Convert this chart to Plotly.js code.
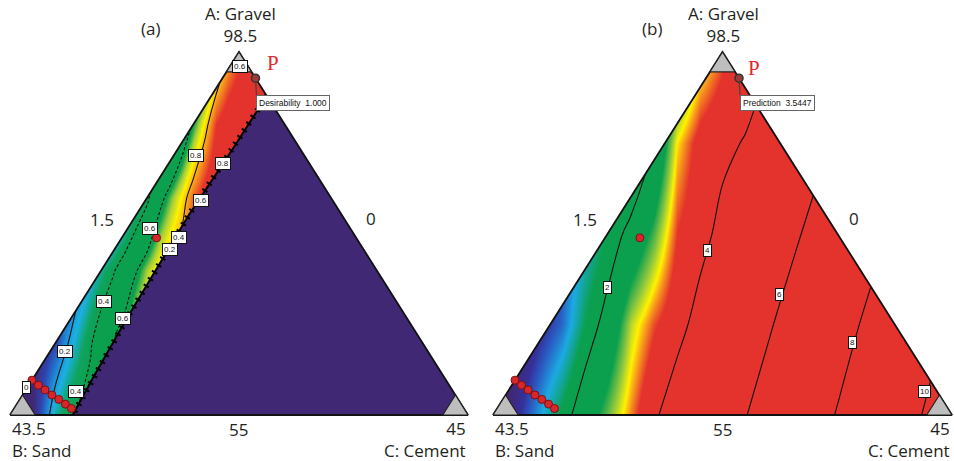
<!DOCTYPE html>
<html>
<head>
<meta charset="utf-8">
<script src="https://cdn.plot.ly/plotly-3.0.1.min.js"></script>
<style>
  html, body { margin: 0; padding: 0; background: #ffffff; }
  #chart { width: 954px; height: 461px; }
</style>
</head>
<body>
<div id="chart"></div>
<script>
// Mixture design of gravel (A), sand (B) and cement (C).
// Grid points are placed in the simplex by u = C + A/2 (along the base) and v = A (height).

// ---- (a) desirability surface ----
const desirU = [0, 0.025, 0.05, 0.075, 0.1, 0.125, 0.15, 0.175, 0.2, 0.225, 0.25, 0.275, 0.3,
                0.325, 0.35, 0.375, 0.4, 0.425, 0.45, 0.475, 0.5, 0.525, 0.55, 0.575, 0.6];
const desirV = [0, 0.2, 0.4, 0.6, 0.8, 1];
const desirZ = [
  [-0.2, -0.1, 0.0, 0.13, 0.29, 0.37, 0.42, 0.46, 0.5, 0.54, 0.58, 0.62, 0.66, 0.7, 0.74, 0.78, 0.82, 0.86, 0.9, 0.94, 0.98, 1.0, 1.0, 1.0, 1.0],
  [-0.1, -0.05, 0.0, 0.03, 0.08, 0.19, 0.29, 0.38, 0.49, 0.59, 0.68, 0.75, 0.8, 0.85, 0.9, 0.94, 0.97, 1.0, 1.0, 1.0, 1.0, 1.0, 1.0, 1.0, 1.0],
  [-0.34, -0.26, -0.18, -0.1, -0.02, 0.06, 0.14, 0.22, 0.3, 0.38, 0.48, 0.59, 0.68, 0.76, 0.82, 0.87, 0.91, 0.95, 1.0, 1.0, 1.0, 1.0, 1.0, 1.0, 1.0],
  [-1.1, -1.0, -0.87, -0.75, -0.62, -0.5, -0.37, -0.25, -0.12, 0.0, 0.12, 0.25, 0.37, 0.55, 0.65, 0.75, 0.86, 0.94, 1.0, 1.0, 1.0, 1.0, 1.0, 1.0, 1.0],
  [-1.62, -1.48, -1.34, -1.2, -1.06, -0.92, -0.78, -0.64, -0.5, -0.36, -0.22, -0.08, 0.06, 0.2, 0.34, 0.48, 0.62, 0.76, 0.9, 0.97, 1.0, 1.0, 1.0, 1.0, 1.0],
  [-1.54, -1.42, -1.3, -1.18, -1.06, -0.94, -0.82, -0.7, -0.58, -0.46, -0.34, -0.22, -0.1, 0.02, 0.14, 0.26, 0.38, 0.5, 0.66, 0.78, 0.87, 0.95, 1.0, 1.0, 1.0]
];
const desirSolidLevels = [0.2, 0.8];
const desirDashedLevels = [0.4, 0.6];
const desirLabelText = ['0.6', '0.8', '0.8', '0.6', '0.6', '0.4', '0.2', '0.4', '0.6', '0.2', '0', '0.4'];

// ---- (b) predicted response surface ----
const predU = [0, 0.05, 0.1, 0.15, 0.2, 0.25, 0.3, 0.35, 0.4, 0.45, 0.5,
               0.55, 0.6, 0.65, 0.7, 0.75, 0.8, 0.85, 0.9, 0.95, 1];
const predV = [0, 0.25, 0.5, 0.75, 1];
const predZ = [
  [0.19, 0.72, 1.24, 1.77, 2.30, 2.82, 3.35, 3.88, 4.40, 4.93, 5.46, 5.96, 6.49, 7.01, 7.54, 8.06, 8.59, 9.12, 9.64, 10.17, 10.70],
  [-0.2, 0.3, 0.7, 1.05, 1.7, 2.2, 3.0, 3.45, 3.75, 4.25, 4.82, 5.34, 5.88, 6.42, 6.95, 7.49, 8.02, 8.56, 9.09, 9.63, 10.16],
  [-0.22, 0.17, 0.55, 0.93, 1.32, 1.7, 2.16, 2.75, 3.5, 3.76, 4.2, 4.71, 5.24, 5.77, 6.30, 6.83, 7.36, 7.89, 8.41, 8.94, 9.47],
  [-2.8, -2.1, -1.4, -0.7, -0.04, 0.64, 1.32, 2.0, 3.17, 3.64, 3.83, 4.05, 4.58, 5.11, 5.64, 6.17, 6.70, 7.22, 7.75, 8.28, 8.81],
  [-3.3, -2.6, -1.9, -1.2, -0.5, 0.2, 0.9, 1.6, 2.3, 3.0, 3.4, 3.55, 3.9, 4.48, 5.01, 5.54, 6.07, 6.6, 7.1, 7.65, 8.2]
];
const predLevels = [2, 4, 6, 8, 10];
const predLabelText = ['2', '4', '6', '8', '10'];

// ---- design points and optimum (fractions of A and C) ----
const designA = [0.096, 0.082, 0.069, 0.055, 0.043, 0.030, 0.018, 0.488];
const designC = [0.000, 0.021, 0.042, 0.064, 0.085, 0.106, 0.125, 0.076];
const optA = [0.928];
const optC = [0.072];
const optDesirability = 1.000;
const optPrediction = 3.5447;

// cement limit bounding the feasible region of (a)
const limitA = [0.879, 0.73, 0.55, 0.27, 0.10, 0.0];
const limitC = [0.121, 0.12, 0.115, 0.122, 0.13, 0.137];

// excluded corner size at each vertex
const cornerFrac = 0.055;

// vertex and edge labels
const vertexNames = ['A: Gravel', 'B: Sand', 'C: Cement'];
const vertexValues = ['98.5', '43.5', '45'];
const edgeValues = ['1.5', '0', '55'];   // A-B edge, A-C edge, B-C edge
const panelTags = ['(a)', '(b)'];

// ================= drawing =================
const W = 954, H = 461;
const topPx = 52, basePx = 415;
// simplex placement (pixels) and the plot box around it (whole pixels)
const panels = [
  { left: 10,  width: 458, box: [5, 473],   xa: 'x',  ya: 'y',  tagX: 150, apexX: 240 },
  { left: 493, width: 459, box: [489, 954], xa: 'x2', ya: 'y2', tagX: 652, apexX: 723 }
];
const boxY = [48, 419];
const sans = 'Open Sans, Liberation Sans, Arial, sans-serif';
const textColor = '#231F20';
const purple = '#402874';

const desirScale = [
  [0.00, '#402874'], [0.08, '#2E44B0'], [0.17, '#1C8FD8'], [0.24, '#1BB0E3'],
  [0.33, '#0FA45E'], [0.40, '#0BA04E'], [0.62, '#0BA04E'], [0.68, '#A8CF3A'],
  [0.74, '#FFF200'], [0.82, '#F7941D'], [0.90, '#E4322D'], [1.00, '#E4322D']
];
const predMin = 0.5, predMax = 3.6;
const predStops = [
  [0.5, '#402874'], [0.8, '#35309A'], [1.0, '#2A5BC2'], [1.3, '#1BAAE2'],
  [1.7, '#0BA04E'], [2.6, '#0BA04E'], [2.9, '#8DC63F'], [3.15, '#FFF200'],
  [3.3, '#F8981D'], [3.5, '#E4322D'], [3.6, '#E4322D']
];
const predScale = predStops.map(s => [(s[0] - predMin) / (predMax - predMin), s[1]]);

const toX = (A, C) => A.map((a, i) => C[i] + a / 2);
const tern = (a, c) => [c + a / 2, a];

const traces = [];
const annotations = [];

function framePieces(p) {
  // white masks outside the simplex (all wound the same way, reaching past the plot box)
  const x0 = -0.3, x1 = 1.3, y0 = -0.3, y1 = 1.3;
  const B = tern(0, 0), C = tern(0, 1), A = tern(1, 0);
  const xs = [x0, x1, x1, x0, x0, null,
              x0, B[0], A[0], A[0], x0, x0, null,
              C[0], x1, x1, A[0], A[0], C[0]];
  const ys = [y0, y0, 0, 0, y0, null,
              0, B[1], A[1], y1, y1, 0, null,
              C[1], 0, y1, y1, A[1], C[1]];
  traces.push({
    type: 'scatter', mode: 'lines', xaxis: p.xa, yaxis: p.ya, x: xs, y: ys,
    fill: 'toself', fillcolor: '#ffffff', line: { width: 0 }, hoverinfo: 'skip', showlegend: false
  });
}

function edgesAndCorners(p) {
  const s = cornerFrac;
  const B = tern(0, 0), C = tern(0, 1), A = tern(1, 0);
  traces.push({
    type: 'scatter', mode: 'lines', xaxis: p.xa, yaxis: p.ya,
    x: [B[0], C[0], A[0], B[0]], y: [B[1], C[1], A[1], B[1]],
    line: { color: '#111111', width: 1.8 }, hoverinfo: 'skip', showlegend: false
  });
  const corners = [
    [tern(1, 0), tern(1 - s, 0), tern(1 - s, s)],
    [tern(0, 0), tern(s, 0), tern(0, s)],
    [tern(0, 1), tern(0, 1 - s), tern(s, 1 - s)]
  ];
  const cx = [], cy = [];
  corners.forEach(t => { t.concat([t[0]]).forEach(q => { cx.push(q[0]); cy.push(q[1]); }); cx.push(null); cy.push(null); });
  traces.push({
    type: 'scatter', mode: 'lines', xaxis: p.xa, yaxis: p.ya, x: cx, y: cy,
    fill: 'toself', fillcolor: '#BEBEBE', line: { color: '#222222', width: 1.2 },
    hoverinfo: 'skip', showlegend: false
  });
}

function points(p) {
  traces.push({
    type: 'scatter', mode: 'markers', xaxis: p.xa, yaxis: p.ya,
    x: toX(designA, designC), y: designA.slice(), cliponaxis: false,
    marker: { size: 8, color: '#D8262B', line: { color: '#7A1212', width: 1 } },
    hoverinfo: 'skip', showlegend: false
  });
  traces.push({
    type: 'scatter', mode: 'markers', xaxis: p.xa, yaxis: p.ya,
    x: toX(optA, optC), y: optA.slice(), cliponaxis: false,
    marker: { size: 8, color: '#9A3B38', line: { color: '#333333', width: 1.5 } },
    hoverinfo: 'skip', showlegend: false
  });
}

function contourTrace(p, u, v, z, levels, dash) {
  const lo = Math.min(...levels), hi = Math.max(...levels);
  const step = levels.length > 1 ? (hi - lo) / (levels.length - 1) : 1;
  traces.push({
    type: 'contour', xaxis: p.xa, yaxis: p.ya, x: u, y: v, z: z,
    autocontour: false,
    contours: { start: lo, end: hi + step * 0.01, size: step, coloring: 'none', showlabels: false },
    line: { color: '#111111', width: 1.1, dash: dash || 'solid', smoothing: 1 },
    showscale: false, hoverinfo: 'skip', showlegend: false
  });
}

// ---------- panel (a) ----------
const pa = panels[0];
traces.push({
  type: 'heatmap', xaxis: pa.xa, yaxis: pa.ya, x: desirU, y: desirV, z: desirZ,
  zsmooth: 'best', colorscale: desirScale, zmin: 0, zmax: 1, showscale: false, hoverinfo: 'skip'
});
contourTrace(pa, desirU, desirV, desirZ, desirSolidLevels, 'solid');
contourTrace(pa, desirU, desirV, desirZ, desirDashedLevels, '3px,2px');
framePieces(pa);
// region beyond the cement limit
traces.push({
  type: 'scatter', mode: 'lines', xaxis: pa.xa, yaxis: pa.ya,
  x: toX(limitA, limitC).concat([tern(0, 1)[0]]), y: limitA.concat([tern(0, 1)[1]]),
  fill: 'toself', fillcolor: purple, line: { width: 0 }, hoverinfo: 'skip', showlegend: false
});
edgesAndCorners(pa);
// ragged edge of the limit
traces.push({
  type: 'scatter', mode: 'lines', xaxis: pa.xa, yaxis: pa.ya,
  x: toX(limitA, limitC), y: limitA.slice(),
  line: { color: '#000000', width: 2 }, hoverinfo: 'skip', showlegend: false
});
traces.push({
  type: 'scatter', mode: 'lines', xaxis: pa.xa, yaxis: pa.ya,
  x: toX(limitA, limitC), y: limitA.slice(),
  line: { color: '#000000', width: 6, dash: '2px,6px' }, hoverinfo: 'skip', showlegend: false
});
points(pa);

// ---------- panel (b) ----------
const pb = panels[1];
traces.push({
  type: 'heatmap', xaxis: pb.xa, yaxis: pb.ya, x: predU, y: predV, z: predZ,
  zsmooth: 'best', colorscale: predScale, zmin: predMin, zmax: predMax, showscale: false, hoverinfo: 'skip'
});
contourTrace(pb, predU, predV, predZ, predLevels, 'solid');
framePieces(pb);
edgesAndCorners(pb);
points(pb);

// ---------- contour labels ----------
const desirLabelPos = [[0.502, 0.961], [0.406, 0.716], [0.465, 0.694], [0.417, 0.592], [0.306, 0.515],
  [0.369, 0.490], [0.349, 0.455], [0.205, 0.314], [0.247, 0.267], [0.120, 0.176], [0.037, 0.077], [0.144, 0.066]];
const predLabelPos = [[0.2505, 0.3526], [0.468, 0.4545], [0.625, 0.3306], [0.784, 0.201], [0.941, 0.0634]];
function boxLabel(p, text, pos) {
  annotations.push({
    xref: p.xa, yref: p.ya, x: pos[0], y: pos[1], text: text, showarrow: false,
    font: { family: 'Liberation Sans, Arial, sans-serif', size: 8, color: '#111111' },
    bgcolor: '#ffffff', bordercolor: '#111111', borderwidth: 1, borderpad: 1
  });
}
desirLabelText.forEach((t, i) => boxLabel(pa, t, desirLabelPos[i]));
predLabelText.forEach((t, i) => boxLabel(pb, t, predLabelPos[i]));

// ---------- optimum marker text ----------
const optXY = tern(optA[0], optC[0]);
[[pa, 'Desirability  ' + optDesirability.toFixed(3), 18, 15], [pb, 'Prediction  ' + optPrediction, 15, 10]].forEach(item => {
  const p = item[0];
  annotations.push({
    xref: p.xa, yref: p.ya, x: optXY[0], y: optXY[1], text: item[1],
    showarrow: true, arrowhead: 0, arrowwidth: 1.2, arrowcolor: '#444444',
    axref: 'pixel', ayref: 'pixel', ax: 1, ay: 17, standoff: 4,
    xanchor: 'left', yanchor: 'top',
    font: { family: 'Liberation Sans, Arial, sans-serif', size: 8.5, color: '#111111' },
    bgcolor: '#ffffff', bordercolor: '#666666', borderwidth: 1, borderpad: 2
  });
  annotations.push({
    xref: p.xa, yref: p.ya, x: optXY[0], y: optXY[1], text: 'P', showarrow: false,
    xshift: item[2], yshift: item[3],
    font: { family: 'Liberation Serif, DejaVu Serif, serif', size: 21, color: '#E4262C' }
  });
});

// ---------- vertex / edge labels ----------
function paperText(text, px, py, anchor) {
  annotations.push({
    xref: 'paper', yref: 'paper', x: px / W, y: 1 - py / H, text: text, showarrow: false,
    xanchor: anchor, yanchor: 'middle', align: anchor === 'center' ? 'center' : anchor,
    font: { family: sans, size: 17, color: textColor }
  });
}
panels.forEach((p, i) => {
  const right = p.left + p.width;
  paperText(panelTags[i], p.tagX, 28, 'center');
  paperText(vertexNames[0] + '<br>' + vertexValues[0], p.apexX, 24.5, 'center');
  paperText(edgeValues[0], p.left + 92, 220, 'center');
  paperText(edgeValues[1], p.left + 361, 218, 'center');
  paperText(vertexValues[1] + '<br>' + vertexNames[1], p.left, 439, 'left');
  paperText(edgeValues[2], p.apexX - 1, 429, 'center');
  paperText(vertexValues[2] + '<br>' + vertexNames[2], right, 439, 'right');
});

// ---------- layout ----------
function axisPair(p) {
  const ux = px => (px - p.left) / p.width;
  const vy = py => (basePx - py) / (basePx - topPx);
  return {
    x: { domain: [p.box[0] / W, p.box[1] / W], range: [ux(p.box[0]), ux(p.box[1])] },
    y: { domain: [(H - boxY[1]) / H, (H - boxY[0]) / H], range: [vy(boxY[1]), vy(boxY[0])] }
  };
}
const hiddenAxis = { visible: false, showgrid: false, zeroline: false, fixedrange: true };
const axA = axisPair(pa), axB = axisPair(pb);

const layout = {
  width: W, height: H,
  margin: { l: 0, r: 0, t: 0, b: 0 },
  paper_bgcolor: '#ffffff', plot_bgcolor: 'rgba(0,0,0,0)',
  showlegend: false,
  xaxis:  Object.assign({}, hiddenAxis, axA.x),
  yaxis:  Object.assign({}, hiddenAxis, axA.y),
  xaxis2: Object.assign({}, hiddenAxis, axB.x),
  yaxis2: Object.assign({}, hiddenAxis, axB.y),
  annotations: annotations
};

Plotly.newPlot('chart', traces, layout, { displayModeBar: false, staticPlot: true });
</script>
</body>
</html>
